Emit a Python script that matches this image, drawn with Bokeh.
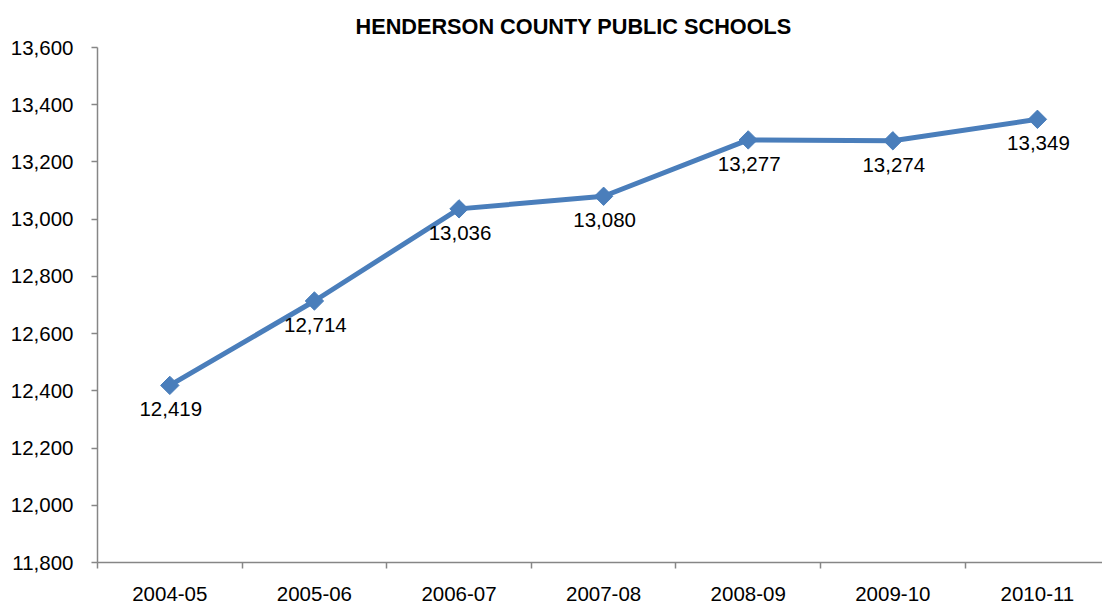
import math
from bokeh.plotting import figure
from bokeh.models import Range1d, FixedTicker, NumeralTickFormatter, ColumnDataSource
from bokeh.core.properties import value
from bokeh.embed import file_html
from bokeh.resources import INLINE

# ---- data ----
categories = ["2004-05", "2005-06", "2006-07", "2007-08", "2008-09", "2009-10", "2010-11"]
enrollment = [12419, 12714, 13036, 13080, 13277, 13274, 13349]
y_ticks = [11800, 12000, 12200, 12400, 12600, 12800, 13000, 13200, 13400, 13600]
title_text = "HENDERSON COUNTY PUBLIC SCHOOLS"

# category positions: band centres and band boundaries
centers = [i + 0.5 for i in range(len(categories))]
bounds = [float(i) for i in range(len(categories))]
labels = ["{:,}".format(v) for v in enrollment]

FONT = "Liberation Sans"
LINE_COLOR = "#4A7EBB"
AXIS_COLOR = "#868686"

p = figure(width=1102, height=610, output_backend="svg", toolbar_location=None,
           x_range=Range1d(0, 6.95), y_range=Range1d(y_ticks[0], y_ticks[-1]),
           min_border_left=97, min_border_right=0, min_border_top=47, min_border_bottom=48)

p.title.text = title_text
p.title.text_font = FONT
p.title.text_font_size = "21.7px"
p.title.text_font_style = "bold"
p.title.text_color = "#000000"
p.title.align = "left"
p.title.offset = 258
p.title.standoff = 17

p.outline_line_color = None
p.xgrid.visible = False
p.ygrid.visible = False
p.background_fill_color = "white"
p.border_fill_color = "white"

src = ColumnDataSource(dict(x=centers, y=enrollment, lab=labels))
p.line("x", "y", source=src, line_color=LINE_COLOR, line_width=5, line_join="round")
p.scatter("x", "y", source=src, marker="square", size=13, angle=math.pi / 4,
          fill_color=LINE_COLOR, line_color=LINE_COLOR)
p.text("x", "y", text="lab", source=src, text_font=value(FONT), text_font_size="20.5px",
       text_align="center", text_baseline="middle", x_offset=1, y_offset=24,
       text_color="#000000")

# x axis: labels at band centres, ticks at band boundaries
xa = p.xaxis[0]
xa.ticker = FixedTicker(ticks=centers, minor_ticks=bounds)
xa.major_label_overrides = {c: lab for c, lab in zip(centers, categories)}
xa.major_tick_in = 0
xa.major_tick_out = 0
xa.minor_tick_in = 0
xa.minor_tick_out = 6
xa.minor_tick_line_color = AXIS_COLOR
xa.minor_tick_line_width = 1.5
xa.axis_line_color = AXIS_COLOR
xa.axis_line_width = 1.5
xa.major_label_text_font = FONT
xa.major_label_text_font_size = "20.5px"
xa.major_label_text_color = "#000000"
xa.major_label_standoff = 18

ya = p.yaxis[0]
ya.ticker = FixedTicker(ticks=y_ticks)
ya.formatter = NumeralTickFormatter(format="0,0")
ya.major_tick_in = 0
ya.major_tick_out = 6
ya.major_tick_line_color = AXIS_COLOR
ya.major_tick_line_width = 1.5
ya.minor_tick_line_color = None
ya.axis_line_color = AXIS_COLOR
ya.axis_line_width = 1.5
ya.major_label_text_font = FONT
ya.major_label_text_font_size = "20.5px"
ya.major_label_text_color = "#000000"
ya.major_label_standoff = 18

open("out.html", "w").write(file_html(p, INLINE))
